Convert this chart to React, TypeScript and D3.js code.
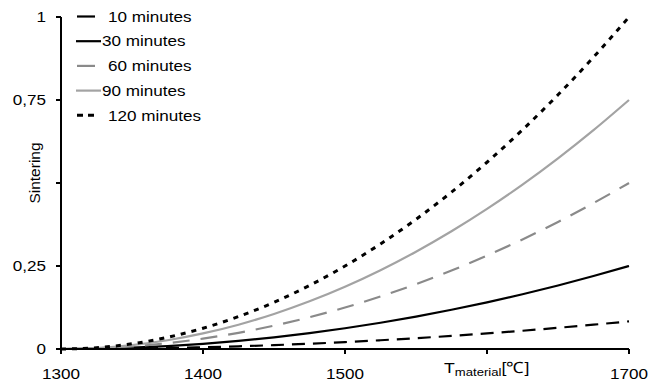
import * as React from "react";
import * as d3 from "d3";

const temps = [1300, 1325, 1350, 1375, 1400, 1425, 1450, 1475, 1500, 1525, 1550, 1575, 1600, 1625, 1650, 1675, 1700];

const min10 = [0, 0.0003, 0.0013, 0.0029, 0.0052, 0.0081, 0.0117, 0.016, 0.0208, 0.0264, 0.0326, 0.0394, 0.0469, 0.055, 0.0638, 0.0732, 0.0833];
const min30 = [0, 0.001, 0.0039, 0.0088, 0.0156, 0.0244, 0.0352, 0.0479, 0.0625, 0.0791, 0.0977, 0.1182, 0.1406, 0.165, 0.1914, 0.2197, 0.25];
const min60 = [0, 0.002, 0.0078, 0.0176, 0.0313, 0.0488, 0.0703, 0.0957, 0.125, 0.1582, 0.1953, 0.2363, 0.2813, 0.3301, 0.3828, 0.4395, 0.5];
const min90 = [0, 0.0029, 0.0117, 0.0264, 0.0469, 0.0732, 0.1055, 0.1436, 0.1875, 0.2373, 0.293, 0.3545, 0.4219, 0.4951, 0.5742, 0.6592, 0.75];
const min120 = [0, 0.0039, 0.0156, 0.0352, 0.0625, 0.0977, 0.1406, 0.1914, 0.25, 0.3164, 0.3906, 0.4727, 0.5625, 0.6602, 0.7656, 0.8789, 1.0];

const seriesNames = ["10 minutes", "30 minutes", "60 minutes", "90 minutes", "120 minutes"];
const seriesValues = [min10, min30, min60, min90, min120];

const xTicks = [1300, 1400, 1500, 1600, 1700];
const xTickLabels = ["1300", "1400", "1500", "", "1700"];
const yTicks = [0, 0.25, 0.5, 0.75, 1];
const yTickLabels = ["0", "0,25", "", "0,75", "1"];

const STYLES = [
  { color: "#000", dash: "13,8", width: 2.2 },
  { color: "#000", dash: null, width: 2.2 },
  { color: "#8a8a8a", dash: "17,11", width: 2.2 },
  { color: "#a3a3a3", dash: null, width: 2.2 },
  { color: "#000", dash: "5,6", width: 3 },
];

const W = 664;
const H = 387;
const M = { left: 61, right: 35, top: 17, bottom: 38 };
const FONT = "'Liberation Sans', Arial, sans-serif";
const FS = 15;
// the source image is a little stretched sideways, so horizontal text is widened
const SX = 1.14;

function Label({ x, y, anchor = "start", dy, children, size = FS }: {
  x: number; y: number; anchor?: string; dy?: string; children: React.ReactNode; size?: number;
}) {
  return (
    <text transform={`translate(${x},${y}) scale(${SX},1)`} textAnchor={anchor} dy={dy} fontSize={size}>
      {children}
    </text>
  );
}

export default function App() {
  const x = d3.scaleLinear().domain([1300, 1700]).range([M.left, W - M.right]);
  const y = d3.scaleLinear().domain([0, 1]).range([H - M.bottom, M.top]);

  const line = d3
    .line<number>()
    .x((_, i) => x(temps[i]))
    .y((v) => y(v))
    .curve(d3.curveMonotoneX);

  return (
    <svg width={W} height={H} style={{ position: "absolute", left: 0, top: 0, fontFamily: FONT }}>
      <rect width={W} height={H} fill="#fff" />

      {seriesValues.map((vals, i) => (
        <path
          key={seriesNames[i]}
          d={line(vals) ?? ""}
          fill="none"
          stroke={STYLES[i].color}
          strokeWidth={STYLES[i].width}
          strokeDasharray={STYLES[i].dash ?? undefined}
        />
      ))}

      {/* axes */}
      <line x1={M.left} x2={M.left} y1={y(0)} y2={y(1)} stroke="#000" strokeWidth={2} />
      <line x1={M.left} x2={x(1700)} y1={y(0)} y2={y(0)} stroke="#000" strokeWidth={2} />

      {yTicks.map((t, i) => (
        <g key={`y-${t}`}>
          <line x1={M.left - 5} x2={M.left} y1={y(t)} y2={y(t)} stroke="#000" strokeWidth={2} />
          <Label x={M.left - 15} y={y(t)} dy="0.35em" anchor="end">
            {yTickLabels[i]}
          </Label>
        </g>
      ))}

      {xTicks.map((t, i) => (
        <g key={`x-${t}`}>
          <line x1={x(t)} x2={x(t)} y1={y(0)} y2={y(0) + 5} stroke="#000" strokeWidth={2} />
          <Label x={x(t)} y={y(0) + 30} anchor="middle">
            {xTickLabels[i]}
          </Label>
        </g>
      ))}

      <text x={0} y={0} transform="translate(40,173) rotate(-90)" textAnchor="middle" fontSize={15.5}>
        Sintering
      </text>

      <Label x={444} y={y(0) + 24} size={15.5}>
        T<tspan fontSize={11.5} dy={3}>material</tspan><tspan dy={-3}>[℃]</tspan>
      </Label>

      {/* legend */}
      {seriesNames.map((name, i) => {
        const ly = 16.5 + i * 24.7;
        const solid = STYLES[i].dash === null;
        return (
          <g key={`leg-${name}`}>
            <line
              x1={solid ? 76 : 77}
              x2={solid ? 101 : 95}
              y1={ly}
              y2={ly}
              stroke={STYLES[i].color}
              strokeWidth={STYLES[i].width}
              strokeDasharray={i === 4 ? "6,5" : undefined}
            />
            <Label x={solid ? 102 : 108} y={ly} dy="0.35em">
              {name}
            </Label>
          </g>
        );
      })}
    </svg>
  );
}
